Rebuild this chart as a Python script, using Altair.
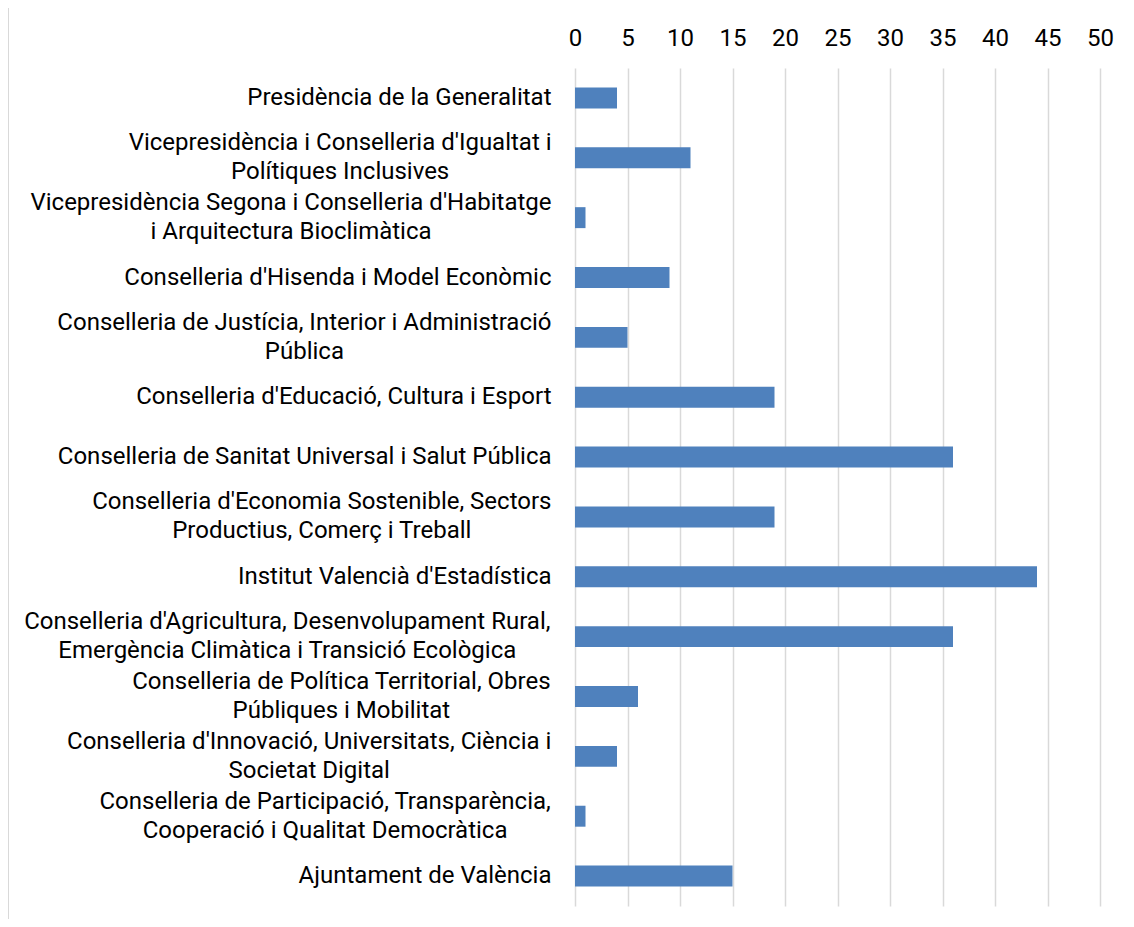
import json
import unicodedata
import altair as alt
import pandas as pd

categories = [
    "Presidència de la Generalitat",
    "Vicepresidència i Conselleria d'Igualtat i\nPolítiques Inclusives",
    "Vicepresidència Segona i Conselleria d'Habitatge\ni Arquitectura Bioclimàtica",
    "Conselleria d'Hisenda i Model Econòmic",
    "Conselleria de Justícia, Interior i Administració\nPública",
    "Conselleria d'Educació, Cultura i Esport",
    "Conselleria de Sanitat Universal i Salut Pública",
    "Conselleria d'Economia Sostenible, Sectors\nProductius, Comerç i Treball",
    "Institut Valencià d'Estadística",
    "Conselleria d'Agricultura, Desenvolupament Rural,\nEmergència Climàtica i Transició Ecològica",
    "Conselleria de Política Territorial, Obres\nPúbliques i Mobilitat",
    "Conselleria d'Innovació, Universitats, Ciència i\nSocietat Digital",
    "Conselleria de Participació, Transparència,\nCooperació i Qualitat Democràtica",
    "Ajuntament de València",
]
values = [4, 11, 1, 9, 5, 19, 36, 19, 44, 36, 6, 4, 1, 15]
x_ticks = [0, 5, 10, 15, 20, 25, 30, 35, 40, 45, 50]

df = pd.DataFrame({"cat": categories, "val": values})

FONT = "Roboto"
FS = 24
PAD = 24

# approximate Roboto Regular advance widths (em) used to centre the lines of
# multi-line labels inside their right-aligned block
ADV = {
    " ": .248, "'": .171, ",": .197, ".": .264,
    "a": .544, "b": .561, "c": .523, "d": .564, "e": .530, "f": .347, "g": .561,
    "h": .551, "i": .243, "j": .239, "k": .507, "l": .243, "m": .876, "n": .552,
    "o": .570, "p": .561, "q": .568, "r": .338, "s": .516, "t": .327, "u": .551,
    "v": .484, "w": .751, "x": .496, "y": .473, "z": .496,
    "A": .653, "B": .623, "C": .651, "D": .656, "E": .568, "F": .553, "G": .681,
    "H": .713, "I": .272, "J": .552, "K": .627, "L": .538, "M": .873, "N": .713,
    "O": .688, "P": .631, "Q": .688, "R": .616, "S": .593, "T": .597, "U": .649,
    "V": .637, "W": .887, "X": .627, "Y": .601, "Z": .599,
}


def text_w(s):
    w = 0.0
    for ch in s:
        base = unicodedata.normalize("NFD", ch)[0]
        w += ADV.get(base, 0.55)
    return w * FS


pad_expr = str(PAD)
for c in categories:
    if "\n" in c:
        maxw = max(text_w(line) for line in c.split("\n"))
        pad_expr = f"datum.value == {json.dumps(c)} ? {PAD + maxw / 2:.1f} : ({pad_expr})"

bars = alt.Chart(df).mark_bar(color="#4f81bd").encode(
    y=alt.Y(
        "cat:N",
        sort=categories,
        title=None,
        scale=alt.Scale(paddingInner=0.65, paddingOuter=0.325),
        axis=alt.Axis(
            labelExpr="split(datum.value, '\\n')",
            labelFont=FONT,
            labelFontSize=FS,
            labelColor="#000000",
            labelLineHeight=29,
            labelPadding=alt.ExprRef(pad_expr),
            labelLimit=700,
            labelAlign={
                "condition": {"test": "indexof(datum.value, '\\n') >= 0", "value": "center"},
                "value": "right",
            },
            labelOffset={
                "condition": {"test": "indexof(datum.value, '\\n') >= 0", "value": -14.5},
                "value": 0,
            },
            domain=False,
            ticks=False,
            tickSize=0,
            grid=False,
        ),
    ),
    x=alt.X(
        "val:Q",
        title=None,
        scale=alt.Scale(domain=[0, 50], nice=False),
        axis=alt.Axis(
            orient="top",
            values=x_ticks,
            labelFont=FONT,
            labelFontSize=FS,
            labelColor="#000000",
            labelPadding=18,
            labelFlush=False,
            domain=False,
            ticks=False,
            tickSize=0,
            grid=True,
            gridColor="#d9d9d9",
            gridWidth=1.5,
        ),
    ),
)

frame = alt.Chart(df).mark_rect(
    fill=None, stroke="#d9d9d9", strokeWidth=2
).encode(
    x=alt.value(-567),
    x2=alt.value(580),
    y=alt.value(-62),
    y2=alt.value(900),
)

chart = alt.layer(frame, bars).properties(
    width=525,
    height=838,
    padding={"left": 567, "top": 60, "right": 20, "bottom": 13},
    autosize=alt.AutoSizeParams(type="none"),
    background="white",
).configure_view(stroke=None)

chart.save("out.html", embed_options={"renderer": "svg", "actions": False})
